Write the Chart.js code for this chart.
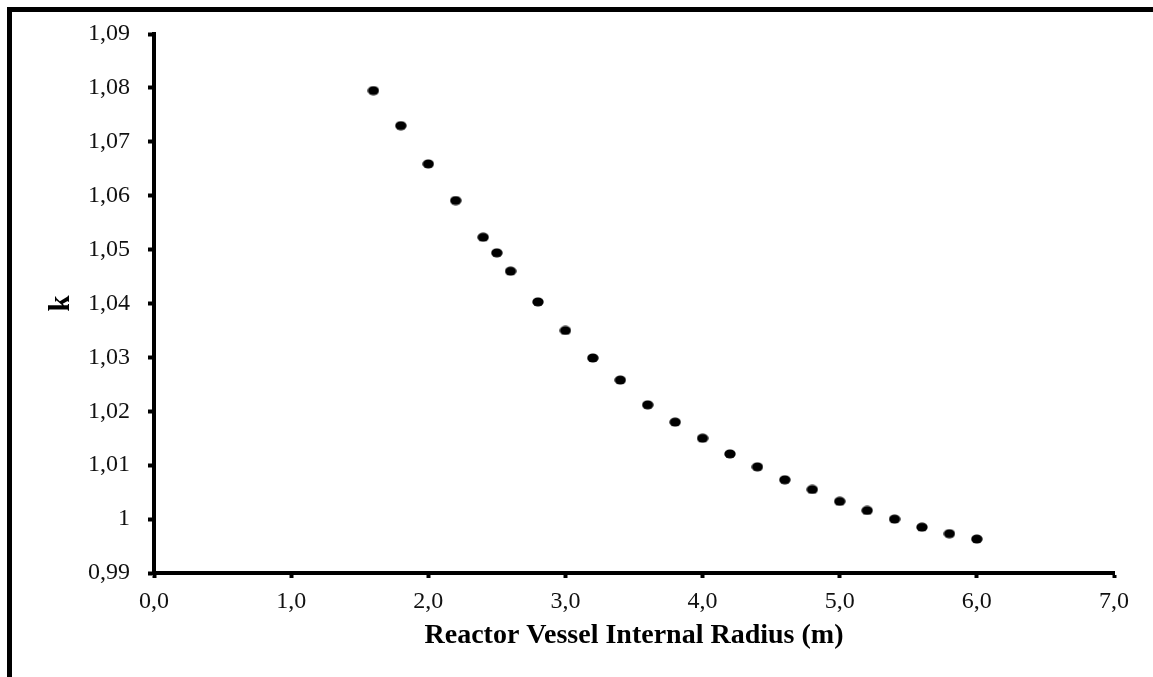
<!DOCTYPE html>
<html>
<head>
<meta charset="utf-8">
<script src="https://cdn.jsdelivr.net/npm/chart.js@4/dist/chart.umd.min.js"></script>
<style>
  html, body { margin: 0; padding: 0; background: #fff; }
  #wrap { position: relative; width: 1153px; height: 677px; overflow: hidden; background: #fff; }
  #frame { position: absolute; left: 7px; top: 7px; width: 1200px; height: 700px;
           border-left: 5px solid #000; border-top: 5px solid #000; box-sizing: border-box; }
  canvas { position: absolute; left: 0; top: 0; }
</style>
</head>
<body>
<div id="wrap">
  <div id="frame"></div>
  <canvas id="c" width="1153" height="677"></canvas>
</div>
<script>
// Data
const radius = [1.6, 1.8, 2.0, 2.2, 2.4, 2.5, 2.6, 2.8, 3.0, 3.2, 3.4, 3.6, 3.8, 4.0, 4.2, 4.4, 4.6, 4.8, 5.0, 5.2, 5.4, 5.6, 5.8, 6.0];
const kValues = [1.0795, 1.0730, 1.0659, 1.0591, 1.0523, 1.0494, 1.0460, 1.0403, 1.0350, 1.0299, 1.0258, 1.0212, 1.0180, 1.0150, 1.0121, 1.0097, 1.0073, 1.0055, 1.0033, 1.0016, 1.0000, 0.9985, 0.9973, 0.9963];
const xTitle = 'Reactor Vessel Internal Radius (m)';
const yTitle = 'k';
const xMin = 0, xMax = 7, xStep = 1;
const yMin = 0.99, yMax = 1.09, yStep = 0.01;

// elliptical dot marker
const dot = document.createElement('canvas');
dot.width = 12; dot.height = 10;
(function () {
  const g = dot.getContext('2d');
  g.fillStyle = '#000';
  g.beginPath();
  g.ellipse(6, 5, 5.7, 4.6, 0, 0, Math.PI * 2);
  g.fill();
})();

const points = radius.map((r, i) => ({ x: r, y: kValues[i] }));

const serif = "'Liberation Serif', 'DejaVu Serif', serif";

new Chart(document.getElementById('c'), {
  type: 'scatter',
  data: {
    datasets: [{
      data: points,
      pointStyle: dot,
      pointRadius: 6,
      backgroundColor: '#000',
      borderColor: '#000'
    }]
  },
  options: {
    responsive: false,
    animation: false,
    devicePixelRatio: 1,
    layout: { padding: { left: 0, top: 34, right: 39, bottom: 0 } },
    plugins: { legend: { display: false }, tooltip: { enabled: false } },
    scales: {
      x: {
        type: 'linear',
        min: xMin, max: xMax,
        afterFit: s => { s.height = 104; },
        border: { display: true, color: '#000', width: 4 },
        grid: { display: true, drawOnChartArea: false, drawTicks: true, tickLength: 5, tickWidth: 4, color: '#000', tickColor: '#000' },
        ticks: {
          stepSize: xStep,
          color: '#111',
          padding: 9,
          maxRotation: 0,
          font: { family: serif, size: 24 },
          callback: v => Number(v).toFixed(1).replace('.', ',')
        },
        title: {
          display: true, text: xTitle, color: '#000',
          font: { family: serif, size: 28, weight: 'bold' },
          padding: { top: 0, bottom: 24 }
        }
      },
      y: {
        type: 'linear',
        min: yMin, max: yMax,
        afterFit: s => { s.width = 154; },
        border: { display: true, color: '#000', width: 4 },
        grid: { display: true, drawOnChartArea: false, drawTicks: true, tickLength: 6, tickWidth: 4, color: '#000', tickColor: '#000' },
        ticks: {
          stepSize: yStep,
          color: '#111',
          padding: 18,
          font: { family: serif, size: 24 },
          callback: v => {
            const r = Math.round(v * 100) / 100;
            return String(r).replace('.', ',');
          }
        },
        title: {
          display: true, text: yTitle, color: '#000',
          font: { family: serif, size: 29, weight: 'bold' },
          padding: { top: 44, bottom: 0 }
        }
      }
    }
  }
});
</script>
</body>
</html>
